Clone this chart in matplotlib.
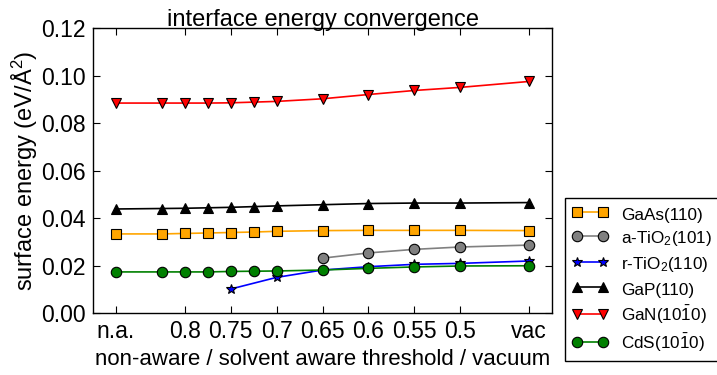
import numpy as np
import matplotlib
matplotlib.use('Agg')
import matplotlib.pyplot as plt

plt.rcParams.update({'font.family': 'sans-serif',
                     'font.sans-serif': ['Liberation Sans', 'DejaVu Sans'],
                     'mathtext.fontset': 'custom',
                     'mathtext.rm': 'Liberation Sans',
                     'mathtext.it': 'Liberation Sans:italic',
                     'axes.labelsize': 16.5,
                     'xtick.labelsize': 16.5,
                     'ytick.labelsize': 16.5,
                     'legend.fontsize': 12.3})

# threshold positions (n.a. left, vac right)
thresh = [0.875, 0.825, 0.8, 0.775, 0.75, 0.725, 0.7, 0.65, 0.6, 0.55, 0.5, 0.425]
tick_pos = [0.875, 0.8, 0.75, 0.7, 0.65, 0.6, 0.55, 0.5, 0.425]
tick_lab = ['n.a.', '0.8', '0.75', '0.7', '0.65', '0.6', '0.55', '0.5', 'vac']

gaas = [0.0333, 0.0333, 0.0335, 0.0337, 0.0339, 0.0341, 0.0344, 0.0347, 0.0348, 0.0348, 0.0348, 0.0347]
atio2_x = [0.65, 0.6, 0.55, 0.5, 0.425]
atio2 = [0.0231, 0.0253, 0.0268, 0.0278, 0.0286]
rtio2_x = [0.75, 0.7, 0.65, 0.6, 0.55, 0.5, 0.425]
rtio2 = [0.0101, 0.0150, 0.0181, 0.0195, 0.0205, 0.0209, 0.0219]
gap = [0.0438, 0.0440, 0.0441, 0.0443, 0.0445, 0.0448, 0.0451, 0.0456, 0.0461, 0.0463, 0.0463, 0.0465]
gan = [0.0884, 0.0884, 0.0884, 0.0884, 0.0885, 0.0888, 0.0891, 0.0902, 0.0920, 0.0937, 0.0950, 0.0975]
cds = [0.0173, 0.0173, 0.0173, 0.0173, 0.0175, 0.0176, 0.0177, 0.0181, 0.0188, 0.0194, 0.0198, 0.0199]

fig = plt.figure(figsize=(7.17, 3.75), dpi=100)
ax = fig.add_axes([0.1297, 0.1653, 0.6403, 0.76])

kw = dict(mec='k', mew=0.8, lw=1.2)
ax.plot(thresh, gaas, 's-', color='orange', mfc='orange', ms=7, label='GaAs(110)', **kw)
ax.plot(atio2_x, atio2, 'o-', color='gray', mfc='gray', ms=7.5, label=r'a-TiO$_2$(101)', **kw)
ax.plot(rtio2_x, rtio2, '*-', color='b', mfc='b', ms=7.5, label=r'r-TiO$_2$(110)', **kw)
ax.plot(thresh, gap, '^-', color='k', mfc='k', ms=7.5, label='GaP(110)', **kw)
ax.plot(thresh, gan, 'v-', color='r', mfc='r', ms=7.5, label=r'GaN(10$\bar{1}$0)', **kw)
ax.plot(thresh, cds, 'o-', color='g', mfc='g', ms=7.5, label=r'CdS(10$\bar{1}$0)', **kw)

ax.set_xlim(0.9, 0.4)
ax.set_ylim(0, 0.12)
ax.set_xticks(tick_pos)
ax.set_xticklabels(tick_lab)
ax.set_yticks(np.arange(0, 0.121, 0.02))
ax.yaxis.set_major_formatter(matplotlib.ticker.FormatStrFormatter('%.2f'))
ax.tick_params(direction='in', top=True, right=True, length=5, width=0.8)
ax.tick_params(axis='x', pad=5)
ax.tick_params(axis='y', pad=5)
for s in ax.spines.values():
    s.set_linewidth(1.0)

ax.set_xlabel('non-aware / solvent aware threshold / vacuum', fontsize=16, labelpad=4)
ax.set_ylabel(r'surface energy (eV/$\mathrm{\AA}^2$)', fontsize=17, labelpad=1)
ax.set_title('interface energy convergence', fontsize=17, pad=1.5)

leg = ax.legend(loc='upper left', bbox_to_anchor=(0.788, 0.472),
                bbox_transform=fig.transFigure, borderaxespad=0, numpoints=2,
                fancybox=False, edgecolor='k', framealpha=1, labelspacing=0.34,
                handlelength=2.1, handleheight=1.25, borderpad=0.4,
                handletextpad=0.8)
leg.get_frame().set_linewidth(1.0)

fig.savefig('out.png', dpi=100)
